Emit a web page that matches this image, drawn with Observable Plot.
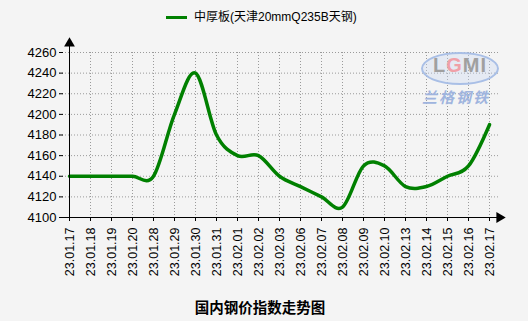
<!DOCTYPE html>
<html>
<head>
<meta charset="utf-8">
<script src="https://cdn.jsdelivr.net/npm/d3@7"></script>
<script src="https://cdn.jsdelivr.net/npm/@observablehq/plot@0.6"></script>
<style>
  html, body { margin: 0; padding: 0; background: #f4f4f4; }
  body { width: 528px; height: 321px; position: relative; overflow: hidden; font-family: "Liberation Sans", Arial, sans-serif; }
  #legend { height: 30px; position: relative; }
  #legend .swatch { position: absolute; left: 166px; top: 16px; width: 21px; height: 3px; background: #008000; }
  #legend .label { position: absolute; left: 194px; top: 9px; font-size: 12px; line-height: 16px; font-family: "Liberation Sans", "Noto Sans CJK SC", sans-serif; color: #000; white-space: nowrap; }
  #title { position: absolute; left: 0; width: 520px; top: 296px; text-align: center; font-size: 14.5px; font-weight: bold; font-family: "Noto Sans CJK SC", sans-serif; color: #000; }
  #wm { position: absolute; left: 421px; top: 51px; width: 78px; height: 56px; pointer-events: none; }
  #wm .ell { position: absolute; left: 0; top: 1px; width: 74px; height: 29px; border: 2px solid #a9bfe6; border-radius: 50%; background: rgba(200,215,240,0.35); }
  #wm .lg { position: absolute; left: 6px; top: 3px; width: 66px; text-align: center; font: bold 20px "Liberation Sans", sans-serif; color: #a0a0a0; letter-spacing: 1px; }
  #wm .lg span { color: #f0a0a8; }
  #wm .cn { position: absolute; left: 1px; top: 35px; font: bold italic 15px "Noto Sans CJK SC", sans-serif; color: #9fb4de; letter-spacing: 2px; white-space: nowrap; }
</style>
</head>
<body>
<div id="legend"><div class="swatch"></div><div class="label">中厚板(天津20mmQ235B天钢)</div></div>
<div id="chart"></div>
<div id="wm"><div class="ell"></div><div class="lg">L<span>G</span>MI</div><div class="cn">兰格钢铁</div></div>
<div id="title">国内钢价指数走势图</div>
<script>
const dates = ["23.01.17","23.01.18","23.01.19","23.01.20","23.01.28","23.01.29","23.01.30","23.01.31",
  "23.02.01","23.02.02","23.02.03","23.02.06","23.02.07","23.02.08","23.02.09","23.02.10",
  "23.02.13","23.02.14","23.02.15","23.02.16","23.02.17"];
const values = [4140,4140,4140,4140,4140,4200,4240,4180,
  4160,4160,4140,4130,4120,4110,4150,4150,
  4130,4130,4140,4150,4190];
const yTicks = [4100,4120,4140,4160,4180,4200,4220,4240,4260];
const seriesName = "中厚板(天津20mmQ235B天钢)";

const data = dates.map((d, i) => ({date: d, value: values[i]}));
const gridStyle = {stroke: "#9a9a9a", strokeOpacity: 1, strokeDasharray: "1,2", strokeWidth: 1};

const chart = Plot.plot({
  width: 528,
  height: 262,
  marginLeft: 59,
  marginRight: 30,
  marginTop: 22,
  marginBottom: 75,
  style: {background: "transparent", fontFamily: "Liberation Sans, Arial, sans-serif", fontSize: "12.5px", color: "#000"},
  x: {type: "point", domain: dates, padding: 0, label: null},
  y: {domain: [4100, 4260], label: null},
  marks: [
    Plot.gridY(yTicks.slice(1), gridStyle),
    Plot.gridX(dates.slice(1), gridStyle),
    Plot.axisY(yTicks, {tickSize: 0, tickPadding: 3, fontSize: 13, tickFormat: d => String(d), label: null}),
    Plot.tickY(yTicks.slice(1), {y: d => d, stroke: "#000", insetRight: 435}),
    Plot.axisX(dates, {tickSize: 4, tickPadding: 6, tickRotate: -90, fontSize: 12.5, label: null}),
    Plot.line(data, {x: "date", y: "value", curve: "cardinal", stroke: "#008000", strokeWidth: 3.5}),
    Plot.ruleY([yTicks[0]], {stroke: "#000", insetRight: -6}),
    Plot.ruleX([dates[0]], {stroke: "#000", insetTop: -10}),
    Plot.dot([0], {x: () => dates[0], y: () => yTicks[yTicks.length - 1], symbol: "triangle", r: 4, fill: "#000", stroke: null, dy: -9}),
    Plot.dot([0], {x: () => dates[dates.length - 1], y: () => yTicks[0], symbol: "triangle", r: 4, fill: "#000", stroke: null, rotate: 90, dx: 10})
  ]
});
document.getElementById("chart").appendChild(chart);
</script>
</body>
</html>
